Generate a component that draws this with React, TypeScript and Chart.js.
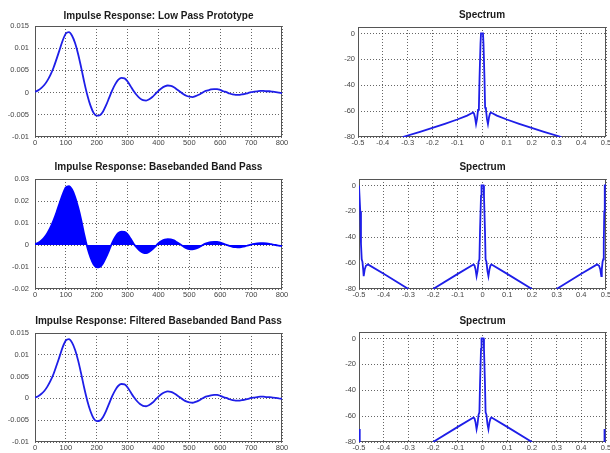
import React, { useEffect, useRef } from "react";
import { Chart, registerables } from "chart.js";

Chart.register(...registerables);

// ---------- data ----------
const sampleIndex = [
  0, 10, 20, 30, 40, 50, 60, 70, 80, 90, 100, 110, 120, 130, 140, 150, 160, 170, 180, 190,
  200, 210, 220, 230, 240, 250, 260, 270, 280, 290, 300, 310, 320, 330, 340, 350, 360, 370, 380, 390,
  400, 410, 420, 430, 440, 450, 460, 470, 480, 490, 500, 510, 520, 530, 540, 550, 560, 570, 580, 590,
  600, 610, 620, 630, 640, 650, 660, 670, 680, 690, 700, 710, 720, 730, 740, 750, 760, 770, 780, 790, 800,
];

const lowPassImpulse = [
  0.0002, 0.0005, 0.001, 0.0017, 0.0027, 0.004, 0.0056, 0.0076, 0.0097, 0.0118,
  0.0133, 0.0136, 0.0128, 0.0111, 0.0086, 0.0055, 0.0022, -0.0007, -0.003, -0.0046,
  -0.0052, -0.0051, -0.0043, -0.0029, -0.0012, 0.0005, 0.0019, 0.0029, 0.0033, 0.0032,
  0.0025, 0.0014, 0.0003, -0.0006, -0.0013, -0.0017, -0.0018, -0.0015, -0.001, -0.0003,
  0.0004, 0.001, 0.0014, 0.0016, 0.0015, 0.0012, 0.0007, 0.0002, -0.0003, -0.0007,
  -0.0009, -0.001, -0.0008, -0.0005, -0.0001, 0.0003, 0.0005, 0.0007, 0.0008, 0.0008,
  0.0006, 0.0003, 0.0001, -0.0002, -0.0004, -0.0005, -0.0005, -0.0004, -0.0003, -0.0001,
  0.0001, 0.0002, 0.0003, 0.0004, 0.0004, 0.0003, 0.0003, 0.0002, 0.0001, 0, -0.0001,
];

const basebandImpulse = [
  0.0004, 0.001, 0.002, 0.0034, 0.0054, 0.008, 0.0112, 0.015, 0.0192, 0.0232,
  0.0262, 0.0268, 0.0252, 0.0218, 0.017, 0.0112, 0.0044, -0.0014, -0.0058, -0.0089,
  -0.0102, -0.01, -0.0084, -0.0056, -0.0024, 0.001, 0.0036, 0.0055, 0.0061, 0.006,
  0.0049, 0.0028, 0.0005, -0.0012, -0.0026, -0.0035, -0.0037, -0.0031, -0.002, -0.0006,
  0.0008, 0.0018, 0.0025, 0.0027, 0.0026, 0.0021, 0.0012, 0.0003, -0.0006, -0.0014,
  -0.0019, -0.002, -0.0017, -0.0011, -0.0003, 0.0005, 0.001, 0.0013, 0.0014, 0.0014,
  0.0011, 0.0006, 0.0001, -0.0004, -0.0008, -0.001, -0.0011, -0.0009, -0.0006, -0.0002,
  0.0002, 0.0005, 0.0007, 0.0008, 0.0008, 0.0007, 0.0005, 0.0002, 0, -0.0003, -0.0005,
];

const filteredImpulse = [
  0.0002, 0.0005, 0.001, 0.0017, 0.0027, 0.004, 0.0056, 0.0076, 0.0097, 0.0118,
  0.0133, 0.0136, 0.0128, 0.0111, 0.0086, 0.0055, 0.0022, -0.0007, -0.003, -0.0046,
  -0.0052, -0.0051, -0.0043, -0.0029, -0.0012, 0.0005, 0.0019, 0.0029, 0.0033, 0.0032,
  0.0025, 0.0014, 0.0003, -0.0006, -0.0013, -0.0017, -0.0018, -0.0015, -0.001, -0.0003,
  0.0004, 0.001, 0.0014, 0.0016, 0.0015, 0.0012, 0.0007, 0.0002, -0.0003, -0.0007,
  -0.0009, -0.001, -0.0008, -0.0005, -0.0001, 0.0003, 0.0005, 0.0007, 0.0008, 0.0008,
  0.0006, 0.0003, 0.0001, -0.0002, -0.0004, -0.0005, -0.0005, -0.0004, -0.0003, -0.0001,
  0.0001, 0.0002, 0.0003, 0.0004, 0.0004, 0.0003, 0.0003, 0.0002, 0.0001, 0, -0.0001,
];

// Spectrum 1 (low pass prototype)
const spectrum1Freq = [
  -0.32, -0.25, -0.2, -0.15, -0.1, -0.06, -0.04, -0.036, -0.032, -0.028, -0.024, -0.02, -0.016, -0.0125,
  -0.01, -0.006, -0.004, 0.004, 0.006, 0.01, 0.0125, 0.016, 0.02, 0.024, 0.028, 0.032, 0.036, 0.04,
  0.06, 0.1, 0.15, 0.2, 0.25, 0.32,
];
const spectrum1Db = [
  -80, -76, -73, -69.8, -66.5, -63.5, -61.5, -61, -62, -65, -70, -66, -59, -57,
  -35, -8, 0, 0, -8, -35, -57, -59, -66, -70, -65, -62, -61, -61.5,
  -63.5, -66.5, -69.8, -73, -76, -80,
];

// Spectrum 2 (basebanded band pass) — null marks where the curve drops below -80
const spectrum2Freq = [
  -0.5, -0.497, -0.495, -0.492, -0.489, -0.486, -0.483, -0.481, -0.477, -0.472, -0.464, -0.4, -0.3,
  -0.25,
  -0.2, -0.1, -0.04, -0.036, -0.032, -0.028, -0.024, -0.02, -0.016, -0.0125, -0.01, -0.006, -0.004,
  0.004, 0.006, 0.01, 0.0125, 0.016, 0.02, 0.024, 0.028, 0.032, 0.036, 0.04, 0.1, 0.2,
  0.25,
  0.3, 0.4, 0.464, 0.472, 0.477, 0.481, 0.483, 0.486, 0.489, 0.491, 0.493, 0.495, 0.5,
];
const spectrum2Db = [
  0, 0, -20, -45, -57, -59, -65, -70, -65, -62, -61, -68.2, -80,
  null,
  -80, -68.3, -61.5, -61, -62, -65, -70, -66, -59, -57, -35, -8, 0,
  0, -8, -35, -57, -59, -66, -70, -65, -62, -61, -61.5, -68.3, -80,
  null,
  -80, -68.2, -61, -62, -65, -70, -65, -59, -57, -45, -20, 0, 0,
];

// Spectrum 3 (filtered basebanded band pass)
const spectrum3Freq = [
  -0.497, -0.497,
  -0.35,
  -0.2, -0.1, -0.04, -0.036, -0.032, -0.028, -0.024, -0.02, -0.016, -0.0125, -0.01, -0.006, -0.004,
  0.004, 0.006, 0.01, 0.0125, 0.016, 0.02, 0.024, 0.028, 0.032, 0.036, 0.04, 0.1, 0.2,
  0.35,
  0.494, 0.494,
];
const spectrum3Db = [
  -70, -80,
  null,
  -80, -68.3, -61.5, -61, -62, -65, -70, -66, -59, -57, -35, -8, 0,
  0, -8, -35, -57, -59, -66, -70, -65, -62, -61, -61.5, -68.3, -80,
  null,
  -80, -70,
];

// ---------- ticks ----------
const sampleTicks = [0, 100, 200, 300, 400, 500, 600, 700, 800];
const sampleTickLabels = ["0", "100", "200", "300", "400", "500", "600", "700", "800"];
const lowPassTicks = [-0.01, -0.005, 0, 0.005, 0.01, 0.015];
const lowPassTickLabels = ["-0.01", "-0.005", "0", "0.005", "0.01", "0.015"];
const basebandTicks = [-0.02, -0.01, 0, 0.01, 0.02, 0.03];
const basebandTickLabels = ["-0.02", "-0.01", "0", "0.01", "0.02", "0.03"];
const freqTicks = [-0.5, -0.4, -0.3, -0.2, -0.1, 0, 0.1, 0.2, 0.3, 0.4, 0.5];
const freqTickLabels = ["-0.5", "-0.4", "-0.3", "-0.2", "-0.1", "0", "0.1", "0.2", "0.3", "0.4", "0.5"];
const dbTicks = [-80, -60, -40, -20, 0];
const dbTickLabels = ["-80", "-60", "-40", "-20", "0"];

const titles = [
  "Impulse Response: Low Pass Prototype",
  "Spectrum",
  "Impulse Response: Basebanded Band Pass",
  "Spectrum",
  "Impulse Response: Filtered Basebanded Band Pass",
  "Spectrum",
];

// ---------- styling / layout ----------
const FONT = "'Liberation Sans', Arial, Helvetica, sans-serif";
const LINE = "rgb(30,30,232)";
const FILL = "rgb(0,0,255)";

type Pt = { x: number; y: number | null };
const pairs = (xs: number[], ys: (number | null)[]): Pt[] => xs.map((x, i) => ({ x, y: ys[i] }));

const boxPlugin = {
  id: "matlabBox",
  beforeDatasetsDraw(chart: any) {
    const { ctx, chartArea: a } = chart;
    ctx.save();
    ctx.strokeStyle = "#555";
    ctx.lineWidth = 1;
    ctx.setLineDash([]);
    ctx.strokeRect(
      Math.round(a.left) + 0.5,
      Math.round(a.top) + 0.5,
      Math.round(a.right - a.left) - 1,
      Math.round(a.bottom - a.top) - 1
    );
    ctx.restore();
  },
};

type Spec = {
  left: number;
  top: number;
  width: number;
  height: number;
  area: { l: number; t: number; r: number; b: number };
  titleY: number;
  title: string;
  yLabelPad: number;
  xMin: number;
  xMax: number;
  xTicks: number[];
  xLabels: string[];
  yMin: number;
  yMax: number;
  yTicks: number[];
  yLabels: string[];
  points: Pt[];
  filled?: boolean;
  smooth?: boolean;
};

function Panel({ spec }: { spec: Spec }) {
  const ref = useRef<HTMLCanvasElement>(null);
  useEffect(() => {
    const s = spec;
    const tickFont = { family: FONT, size: 7.5 };
    const chart = new Chart(ref.current as HTMLCanvasElement, {
      type: "line",
      data: {
        datasets: [
          {
            data: s.points as any,
            borderColor: s.filled ? FILL : LINE,
            backgroundColor: FILL,
            borderWidth: 1.8,
            pointRadius: 0,
            fill: s.filled ? "origin" : false,
            spanGaps: false,
            tension: 0,
            cubicInterpolationMode: s.smooth ? "monotone" : "default",
          } as any,
        ],
      },
      options: {
        animation: false,
        responsive: false,
        maintainAspectRatio: false,
        layout: { padding: { left: 0, top: 0, right: s.width - s.area.r, bottom: 0 } },
        plugins: {
          legend: { display: false },
          tooltip: { enabled: false },
          title: {
            display: true,
            text: s.title,
            fullSize: false,
            color: "#1a1a1a",
            font: { family: FONT, size: 10, weight: "bold", lineHeight: 1.2 },
            padding: { top: s.titleY - 6, bottom: s.area.t - s.titleY - 6 },
          },
        },
        scales: {
          x: {
            type: "linear",
            min: s.xMin,
            max: s.xMax,
            afterBuildTicks: (sc: any) => {
              sc.ticks = s.xTicks.map((v) => ({ value: v }));
            },
            afterFit: (sc: any) => {
              sc.height = s.height - s.area.b;
            },
            ticks: {
              autoSkip: false,
              maxRotation: 0,
              minRotation: 0,
              padding: 1,
              color: "#444",
              font: tickFont,
              callback: (_v: any, i: number) => s.xLabels[i],
            },
            grid: { color: "rgba(0,0,0,0.6)", lineWidth: 1, drawTicks: false },
            border: { display: false, dash: [1, 2] },
          },
          y: {
            type: "linear",
            min: s.yMin,
            max: s.yMax,
            afterBuildTicks: (sc: any) => {
              sc.ticks = s.yTicks.map((v) => ({ value: v }));
            },
            afterFit: (sc: any) => {
              sc.width = s.area.l;
            },
            ticks: {
              autoSkip: false,
              padding: s.yLabelPad,
              color: "#444",
              font: tickFont,
              callback: (_v: any, i: number) => s.yLabels[i],
            },
            grid: { color: "rgba(0,0,0,0.6)", lineWidth: 1, drawTicks: false },
            border: { display: false, dash: [1, 2] },
          },
        },
      } as any,
      plugins: [boxPlugin],
    });
    return () => chart.destroy();
  }, [spec]);
  return (
    <canvas
      ref={ref}
      width={spec.width}
      height={spec.height}
      style={{ position: "absolute", left: spec.left, top: spec.top, width: spec.width, height: spec.height }}
    />
  );
}

const impulseCommon = { xMin: 0, xMax: 800, xTicks: sampleTicks, xLabels: sampleTickLabels, smooth: true, yLabelPad: 6 };
const spectrumCommon = {
  xMin: -0.5,
  xMax: 0.5,
  xTicks: freqTicks,
  xLabels: freqTickLabels,
  yMin: -80,
  yMax: 5,
  yTicks: dbTicks,
  yLabels: dbTickLabels,
  yLabelPad: 3,
};

const specs: Spec[] = [
  {
    ...impulseCommon,
    left: 0, top: 0, width: 300, height: 150,
    area: { l: 35, t: 26, r: 282, b: 137 },
    titleY: 16,
    title: titles[0],
    yMin: -0.01, yMax: 0.015, yTicks: lowPassTicks, yLabels: lowPassTickLabels,
    points: pairs(sampleIndex, lowPassImpulse),
  },
  {
    ...spectrumCommon,
    left: 300, top: 0, width: 320, height: 150,
    area: { l: 58, t: 27, r: 306, b: 137 },
    titleY: 15,
    title: titles[1],
    points: pairs(spectrum1Freq, spectrum1Db),
  },
  {
    ...impulseCommon,
    left: 0, top: 150, width: 300, height: 150,
    area: { l: 35, t: 29, r: 282, b: 139 },
    titleY: 17,
    title: titles[2],
    yMin: -0.02, yMax: 0.03, yTicks: basebandTicks, yLabels: basebandTickLabels,
    points: pairs(sampleIndex, basebandImpulse),
    filled: true,
  },
  {
    ...spectrumCommon,
    left: 300, top: 150, width: 320, height: 150,
    area: { l: 59, t: 29, r: 306, b: 139 },
    titleY: 17,
    title: titles[3],
    points: pairs(spectrum2Freq, spectrum2Db),
  },
  {
    ...impulseCommon,
    left: 0, top: 300, width: 300, height: 153,
    area: { l: 35, t: 33, r: 282, b: 142 },
    titleY: 21,
    title: titles[4],
    yMin: -0.01, yMax: 0.015, yTicks: lowPassTicks, yLabels: lowPassTickLabels,
    points: pairs(sampleIndex, filteredImpulse),
  },
  {
    ...spectrumCommon,
    left: 300, top: 300, width: 320, height: 153,
    area: { l: 59, t: 32, r: 306, b: 142 },
    titleY: 21,
    title: titles[5],
    points: pairs(spectrum3Freq, spectrum3Db),
  },
];

export default function App() {
  return (
    <div
      style={{
        position: "absolute",
        left: 0,
        top: 0,
        width: 610,
        height: 453,
        overflow: "hidden",
        background: "#fff",
      }}
    >
      {specs.map((s, i) => (
        <Panel key={i} spec={s} />
      ))}
    </div>
  );
}
